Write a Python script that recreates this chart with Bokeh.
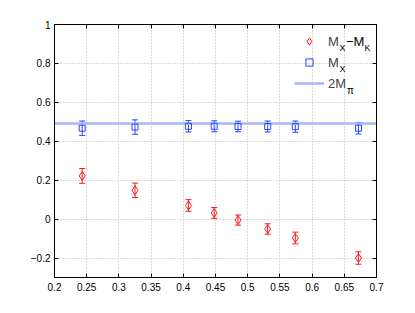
from bokeh.plotting import figure
from bokeh.models import (ColumnDataSource, Whisker, TeeHead, Legend, LegendItem, Label,
                          FixedTicker, LinearAxis, CustomJSTickFormatter, Range1d)
from bokeh.embed import file_html
from bokeh.resources import INLINE

# data
mk = [0.243, 0.325, 0.408, 0.448, 0.485, 0.531, 0.574, 0.672]
mx_minus_mk = [0.222, 0.148, 0.070, 0.032, -0.005, -0.051, -0.097, -0.200]
mx_minus_mk_err = [0.038, 0.037, 0.030, 0.028, 0.026, 0.027, 0.030, 0.032]
mx = [0.467, 0.473, 0.477, 0.477, 0.476, 0.476, 0.475, 0.467]
mx_err = [0.037, 0.037, 0.029, 0.028, 0.027, 0.028, 0.029, 0.030]
two_mpi = 0.489
x_ticks = [0.2, 0.25, 0.3, 0.35, 0.4, 0.45, 0.5, 0.55, 0.6, 0.65, 0.7]
y_ticks = [-0.2, 0, 0.2, 0.4, 0.6, 0.8, 1]

RED = "#ff1a1a"
BLUE = "#2448ff"
LBLUE = "#a6b6f6"
FONT = "Liberation Sans"

src_d = ColumnDataSource(dict(x=mk, y=mx_minus_mk,
                              lo=[v - e for v, e in zip(mx_minus_mk, mx_minus_mk_err)],
                              hi=[v + e for v, e in zip(mx_minus_mk, mx_minus_mk_err)]))
src_m = ColumnDataSource(dict(x=mk, y=mx,
                              lo=[v - e for v, e in zip(mx, mx_err)],
                              hi=[v + e for v, e in zip(mx, mx_err)]))

p = figure(width=415, height=313, output_backend="svg", toolbar_location=None,
           x_range=Range1d(0.2, 0.7), y_range=Range1d(-0.3, 1.0),
           min_border_left=54, min_border_right=39, min_border_top=24, min_border_bottom=36)
p.background_fill_color = "white"
p.border_fill_color = "white"
p.outline_line_color = "black"
p.outline_line_width = 1

# axes
for ax in (p.xaxis[0], p.yaxis[0]):
    ax.major_tick_in = 4
    ax.major_tick_out = 0
    ax.minor_tick_in = 0
    ax.minor_tick_out = 0
    ax.axis_line_color = "black"
    ax.major_tick_line_color = "black"
    ax.major_label_text_font = FONT
    ax.major_label_text_font_size = "10px"
    ax.major_label_text_color = "black"
p.xaxis[0].ticker = FixedTicker(ticks=x_ticks)
p.yaxis[0].ticker = FixedTicker(ticks=y_ticks)
p.xaxis[0].major_label_standoff = 5
p.yaxis[0].major_label_standoff = 4
p.yaxis[0].major_label_overrides = {-0.2: "\u22120.2"}

blank = CustomJSTickFormatter(code="return ''")
top = LinearAxis(ticker=FixedTicker(ticks=x_ticks), formatter=blank,
                 major_tick_in=4, major_tick_out=0, minor_tick_in=0, minor_tick_out=0,
                 axis_line_color="black", major_label_standoff=0)
right = LinearAxis(ticker=FixedTicker(ticks=y_ticks), formatter=blank,
                   major_tick_in=4, major_tick_out=0, minor_tick_in=0, minor_tick_out=0,
                   axis_line_color="black", major_label_standoff=0)
p.add_layout(top, "above")
p.add_layout(right, "right")

p.xgrid.ticker = FixedTicker(ticks=x_ticks)
p.ygrid.ticker = FixedTicker(ticks=y_ticks)
for g in (p.xgrid[0], p.ygrid[0]):
    g.grid_line_color = "#b4b4b4"
    g.grid_line_dash = "1 2"
    g.grid_line_width = 1

# 2 M_pi line
hl = p.hspan(y=[two_mpi], line_color=LBLUE, line_width=2.5)

# error bars
p.add_layout(Whisker(source=src_d, base="x", lower="lo", upper="hi", line_color=RED,
                     line_width=1,
                     upper_head=TeeHead(size=6, line_color=RED, line_width=1),
                     lower_head=TeeHead(size=6, line_color=RED, line_width=1)))
p.add_layout(Whisker(source=src_m, base="x", lower="lo", upper="hi", line_color=BLUE,
                     line_width=1,
                     upper_head=TeeHead(size=6, line_color=BLUE, line_width=1),
                     lower_head=TeeHead(size=6, line_color=BLUE, line_width=1)))

rd = p.scatter("x", "y", source=src_d, marker="diamond", size=9,
               line_color=RED, fill_alpha=0, line_width=1)
rm = p.scatter("x", "y", source=src_m, marker="square", size=6,
               line_color=BLUE, fill_alpha=0, line_width=1)

legend = Legend(items=[LegendItem(label="M", renderers=[rd]),
                       LegendItem(label="M", renderers=[rm]),
                       LegendItem(label="2M", renderers=[hl])],
                location=(235, 179), padding=5, spacing=1, margin=0,
                glyph_width=30, glyph_height=18, label_height=20, label_standoff=4,
                label_text_font=FONT, label_text_font_size="13px",
                label_text_baseline="alphabetic",
                border_line_alpha=0, background_fill_alpha=0)
p.add_layout(legend)

def lab(text, x, y, size):
    p.add_layout(Label(x=x, y=y, x_units="screen", y_units="screen", text=text,
                       text_font=FONT, text_font_size=size, text_color="black",
                       text_baseline="alphabetic", text_align="left"))

# legend subscripts and rest of label texts (frame-relative screen coords)
lab("X", 285, 229.5, "9px")
lab("\u2212M", 291.5, 236, "13px")
lab("K", 310, 229.5, "9px")
lab("X", 285, 208.5, "9px")
lab("\u03c0", 292.5, 187.5, "10px")

# x axis label M_K
lab("M", 152.5, -21, "13px")
lab("K", 163.5, -28, "9px")

open("out.html", "w").write(file_html(p, INLINE))
